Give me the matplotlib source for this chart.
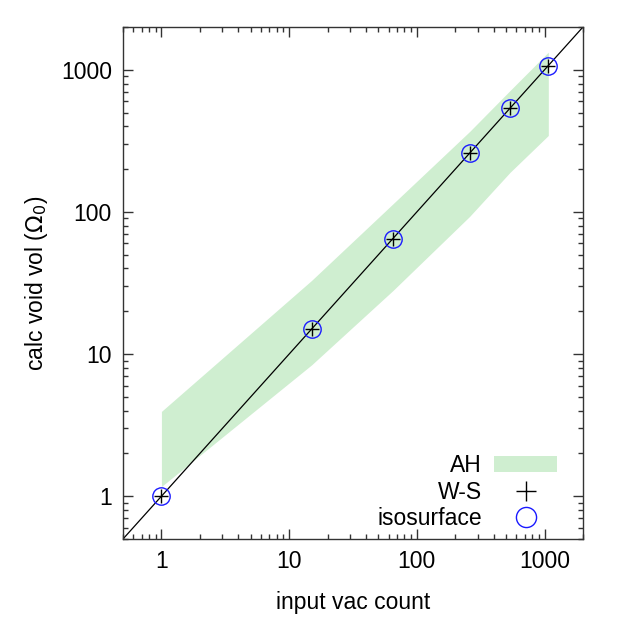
import numpy as np
from matplotlib import pyplot as plt

# vacancy counts and computed void volumes
vac_count = [1, 15, 65, 259, 537, 1070]
ws_vol = [1, 15, 65, 259, 537, 1070]
iso_vol = [1, 15, 65, 259, 537, 1070]
ah_upper = [3.95, 33, 114, 368, 715, 1330]
ah_lower = [1.17, 8.4, 28, 93, 190, 345]

axis_lim = [0.5, 2000]
tick_vals = [1, 10, 100, 1000]
tick_labels = ['1', '10', '100', '1000']

FS = 16.5


def style_axes(ax):
    ax.set_xscale('log')
    ax.set_yscale('log')
    ax.set_xlim(axis_lim)
    ax.set_ylim(axis_lim)
    ax.set_xticks(tick_vals)
    ax.set_xticklabels(tick_labels)
    ax.set_yticks(tick_vals)
    ax.set_yticklabels(tick_labels)
    ax.tick_params(which='both', direction='in', top=True, right=True,
                   color='#333333', width=1)
    ax.tick_params(which='major', length=7, labelsize=FS, pad=8)
    ax.tick_params(which='minor', length=3.5)
    for s in ax.spines.values():
        s.set_color('#333333')
        s.set_linewidth(1)


if __name__ == '__main__':
    plt.rcParams['font.family'] = ['Liberation Sans', 'DejaVu Sans']
    fig = plt.figure(figsize=(6.23, 6.23), dpi=100)
    ax = fig.add_axes([0.1974, 0.1348, 0.7384, 0.8219])

    ax.fill_between(vac_count, ah_lower, ah_upper, color='#cfeed0',
                    linewidth=0, label='AH')
    ax.plot(axis_lim, axis_lim, color='black', lw=0.9)
    ax.plot(vac_count, ws_vol, linestyle='none', marker='+', color='black',
            markersize=10, markeredgewidth=1.0, label='W-S')
    ax.plot(vac_count, iso_vol, linestyle='none', marker='o',
            markerfacecolor='none', markeredgecolor='#1a1aff',
            markersize=12.5, markeredgewidth=1.0, label='isosurface')

    style_axes(ax)
    ax.set_xlabel('input vac count', fontsize=FS, labelpad=13)
    ax.set_ylabel(r'calc void vol ($\Omega_0$)', fontsize=FS, labelpad=8)

    leg = ax.legend(loc='lower right', bbox_to_anchor=(0.964, 0.0),
                    frameon=False, markerfirst=False, fontsize=FS,
                    handlelength=2.75, handletextpad=0.55, labelspacing=0.14,
                    borderaxespad=0)
    # gnuplot draws the key symbols a bit larger than the points
    leg.legend_handles[1].set_markersize(15)
    leg.legend_handles[2].set_markersize(14.5)

    fig.savefig('out.png', dpi=100)
